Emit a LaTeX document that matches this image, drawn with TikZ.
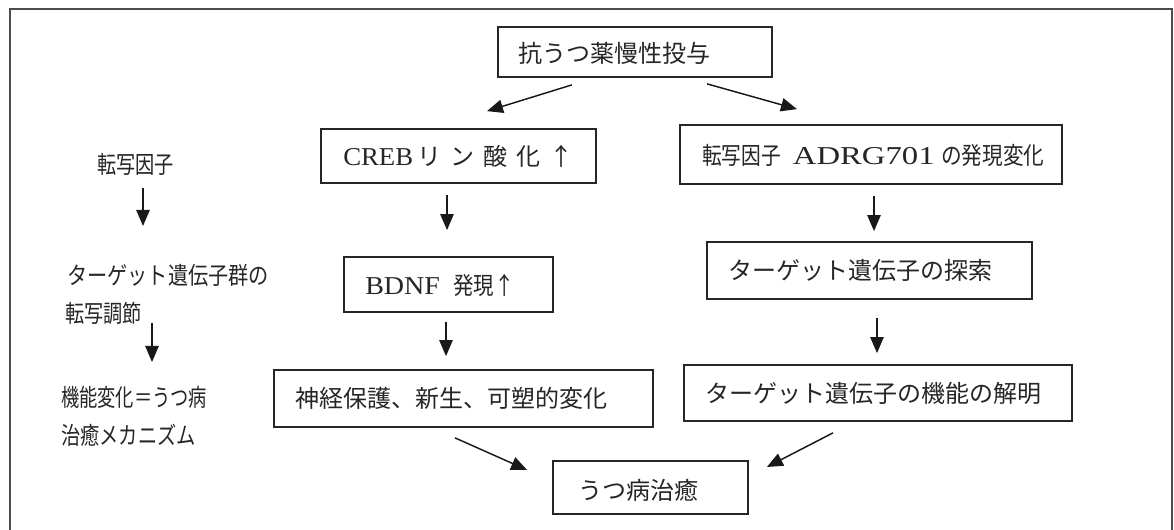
\documentclass[tikz,border=0pt]{standalone}
\usepackage{fontspec}
\usepackage{graphicx}
\setmainfont{Liberation Serif}
\newfontfamily\cjk{Noto Sans CJK JP}
\usetikzlibrary{arrows.meta,calc,fit}
\newcommand\JP[1]{{\cjk\fontsize{18}{20}\selectfont #1}}
\newcommand\JPc[2]{{\cjk\fontsize{18}{20}\selectfont\scalebox{#1}[1]{#2}}}
\tikzset{
  boxnode/.style={draw=black!85, line width=1.3pt, inner sep=0pt, rectangle},
  txt/.style={anchor=west, inner sep=0pt, text=black!85, font=\fontsize{19.3}{22}\selectfont},
  arr/.style={line width=1.1pt, draw=black!90, -{Triangle[length=12pt,width=10pt]}},
}
\begin{document}
\begin{tikzpicture}[x=0.75pt,y=-0.75pt]
\useasboundingbox (0,0) rectangle (1174,530);
\fill[white] (0,0) rectangle (1174,530);
\draw[black!70, line width=1.3pt] (10,9) rectangle (1172,545);

% boxes
\node[boxnode, fit={(498,27) (772,77)}] (top) {};
\node[boxnode, fit={(321,129) (596,183)}] (creb) {};
\node[boxnode, fit={(680,125) (1062,184)}] (adrg) {};
\node[boxnode, fit={(344,257) (553,312)}] (bdnf) {};
\node[boxnode, fit={(707,242) (1032,299)}] (search) {};
\node[boxnode, fit={(274,370) (653,427)}] (neuro) {};
\node[boxnode, fit={(684,365) (1072,421)}] (func) {};
\node[boxnode, fit={(553,461) (748,514)}] (cure) {};

% box texts
\node[txt] (toptxt) at (518,53) {\JP{抗うつ薬慢性投与}};
\node[txt] (crebtxt) at (343,156) {\scalebox{1.04}[1]{CREB}\hspace{3pt}\JP{リ\hspace{6.75pt}ン\hspace{6.75pt}酸\hspace{6.75pt}化\hspace{6.75pt}↑}};
\node[txt] (adrgtxt) at (702,155) {\JPc{0.82}{転写因子}\hspace{9pt}\scalebox{1.27}[1]{ADRG701}\hspace{5pt}\JPc{0.86}{の発現変化}};
\node[txt] (bdnftxt) at (365,285) {\scalebox{1.09}[1]{BDNF}\hspace{10pt}\JPc{0.85}{発現↑}};
\node[txt] (searchtxt) at (728,270) {\JP{ターゲット遺伝子の探索}};
\node[txt] (functxt) at (705,393) {\JP{ターゲット遺伝子の機能の解明}};
\node[txt] (neurotxt) at (295,398) {\JP{神経保護、新生、可塑的変化}};
\node[txt] (curetxt) at (578,490) {\JP{うつ病治癒}};

% left labels
\node[txt] (t1) at (97,164) {\JPc{0.8}{転写因子}};
\node[txt] (t2) at (67,275) {\JPc{0.84}{ターゲット遺伝子群の}};
\node[txt] (t3) at (65,313) {\JPc{0.8}{転写調節}};
\node[txt] (t4) at (61,397) {\JPc{0.76}{機能変化＝うつ病}};
\node[txt] (t5) at (61,435) {\JPc{0.8}{治癒メカニズム}};

% arrows
\draw[arr] ($(top.south)+(-63,7)$) -- ($(creb.north)+(28.5,-17)$);
\draw[arr] ($(top.south)+(72,6)$) -- ($(adrg.north)+(-74,-15)$);
\draw[arr] ($(creb.south)+(-11.5,11)$) -- ($(bdnf.north)+(-1.5,-26)$);
\draw[arr] ($(bdnf.south)+(-2.5,9)$) -- ($(neuro.north)+(-17.5,-13)$);
\draw[arr] ($(adrg.south)+(3,11)$) -- ($(search.north)+(4.5,-10)$);
\draw[arr] ($(search.south)+(7.5,18)$) -- ($(func.north)+(-1,-11)$);
\draw[arr] ($(neuro.south)+(-8.5,10)$) -- ($(cure.west)+(-25,-17.5)$);
\draw[arr] ($(func.south)+(-45,11)$) -- ($(cure.east)+(18,-20.5)$);
\draw[arr] ($(t1.west)+(46,24)$) -- ($(t2.west)+(76,-49)$);
\draw[arr] ($(t3.west)+(87,10)$) -- ($(t4.west)+(91,-35)$);
\end{tikzpicture}
\end{document}
